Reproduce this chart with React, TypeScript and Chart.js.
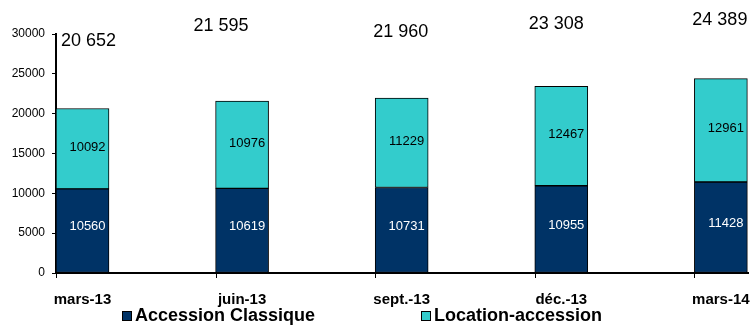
import React, { useEffect, useRef } from 'react';
import { Chart, registerables } from 'chart.js';

Chart.register(...registerables);

const CATEGORIES = ['mars-13', 'juin-13', 'sept.-13', 'déc.-13', 'mars-14'];
const ACCESSION_CLASSIQUE = [10560, 10619, 10731, 10955, 11428];
const LOCATION_ACCESSION = [10092, 10976, 11229, 12467, 12961];
const TOTALS = [20652, 21595, 21960, 23308, 24389];
const SERIES_NAMES = ['Accession Classique', 'Location-accession'];
const Y_MIN = 0;
const Y_MAX = 30000;
const Y_STEP = 5000;

const COLORS = ['#003366', '#33CCCC'];
const FONT = 'Arial, "Liberation Sans", sans-serif';
const HALF = 0.166;
// manual placement of total labels (dx from bar centre, dy from plot top), as in the original
const TOTAL_OFFSETS: [number, number][] = [[6, 7], [-21, -7.5], [-1, -2], [-5, -10], [-1, -13.5]];

const fmt = (n: number) => String(n).replace(/\B(?=(\d{3})+(?!\d))/g, ' ');

const labelsPlugin = {
  id: 'customLabels',
  afterDatasetsDraw(chart: any) {
    const ctx = chart.ctx;
    const xs = chart.scales.x;
    const area = chart.chartArea;
    ctx.save();
    chart.data.datasets.forEach((ds: any, di: number) => {
      const meta = chart.getDatasetMeta(di);
      meta.data.forEach((el: any, i: number) => {
        const v = ds.data[i].y;
        ctx.font = `13px ${FONT}`;
        ctx.fillStyle = di === 0 ? '#ffffff' : '#000000';
        ctx.textAlign = 'center';
        ctx.textBaseline = 'middle';
        const cy = (el.y + el.base) / 2 + (di === 0 ? -4 : -1.5);
        ctx.fillText(String(v), el.x + 5, cy);
      });
    });
    ctx.font = `18px ${FONT}`;
    ctx.fillStyle = '#000';
    ctx.textAlign = 'center';
    ctx.textBaseline = 'middle';
    TOTALS.forEach((t, i) => {
      const [dx, dy] = TOTAL_OFFSETS[i];
      ctx.fillText(fmt(t), xs.getPixelForValue(i) + dx, area.top + dy);
    });
    ctx.strokeStyle = '#000';
    ctx.lineWidth = 1;
    CATEGORIES.forEach((_, i) => {
      const x = Math.round(xs.getPixelForValue(i - HALF)) + 0.5;
      ctx.beginPath();
      ctx.moveTo(x, area.bottom);
      ctx.lineTo(x, area.bottom + 5);
      ctx.stroke();
    });
    ctx.restore();
  },
  afterDraw(chart: any) {
    const ctx = chart.ctx;
    const h = chart.height;
    const boxX = [122, 421];
    const y = h - 15;
    ctx.save();
    chart.data.datasets.forEach((ds: any, di: number) => {
      ctx.fillStyle = ds.backgroundColor;
      ctx.fillRect(boxX[di], y - 5, 10, 10);
      ctx.strokeStyle = '#000';
      ctx.lineWidth = 1;
      ctx.strokeRect(boxX[di] + 0.5, y - 4.5, 9, 9);
      ctx.fillStyle = '#000';
      ctx.font = `bold 18px ${FONT}`;
      ctx.textAlign = 'left';
      ctx.textBaseline = 'middle';
      ctx.fillText(ds.label, boxX[di] + 13, y);
    });
    ctx.restore();
  },
};

export default function App() {
  const ref = useRef<HTMLCanvasElement>(null);
  useEffect(() => {
    document.body.style.margin = '0';
    const chart = new Chart(ref.current!, {
      type: 'bar',
      data: {
        datasets: [
          {
            label: SERIES_NAMES[0],
            data: ACCESSION_CLASSIQUE.map((v, i) => ({ x: i, y: v })),
            backgroundColor: COLORS[0],
            borderColor: '#000',
            borderWidth: 1,
            borderSkipped: false,
            barThickness: 53,
          },
          {
            label: SERIES_NAMES[1],
            data: LOCATION_ACCESSION.map((v, i) => ({ x: i, y: v })),
            backgroundColor: COLORS[1],
            borderColor: '#000',
            borderWidth: 1,
            borderSkipped: false,
            barThickness: 53,
          },
        ],
      },
      options: {
        responsive: false,
        animation: false,
        layout: { padding: { top: 34, right: 5, left: 0, bottom: 0 } },
        plugins: {
          legend: { display: false },
          tooltip: { enabled: false },
        },
        scales: {
          x: {
            type: 'linear',
            stacked: true,
            offset: false,
            min: -HALF,
            max: 4 + HALF + 0.004,
            grid: { display: false, offset: false },
            border: { color: '#000', width: 2 },
            afterFit: (s: any) => {
              s.height = 58;
              s.paddingLeft = 0;
              s.paddingRight = 0;
            },
            ticks: {
              stepSize: 1,
              includeBounds: false,
              autoSkip: false,
              maxRotation: 0,
              padding: 10,
              color: '#000',
              font: { family: FONT, size: 15, weight: 'bold' },
              callback: (v: any) => (Number.isInteger(v) && CATEGORIES[v] !== undefined ? CATEGORIES[v] : ''),
            },
          },
          y: {
            stacked: true,
            min: Y_MIN,
            max: Y_MAX,
            grid: { drawOnChartArea: false, drawTicks: true, tickLength: 4, color: '#000' },
            border: { color: '#000', width: 2 },
            afterFit: (s: any) => { s.width = 56; },
            ticks: {
              stepSize: Y_STEP,
              padding: 7,
              color: '#000',
              font: { family: FONT, size: 12 },
              callback: (v: any) => String(v),
            },
          },
        },
      },
      plugins: [labelsPlugin],
    } as any);
    return () => chart.destroy();
  }, []);
  return <canvas ref={ref} width={753} height={331} />;
}
